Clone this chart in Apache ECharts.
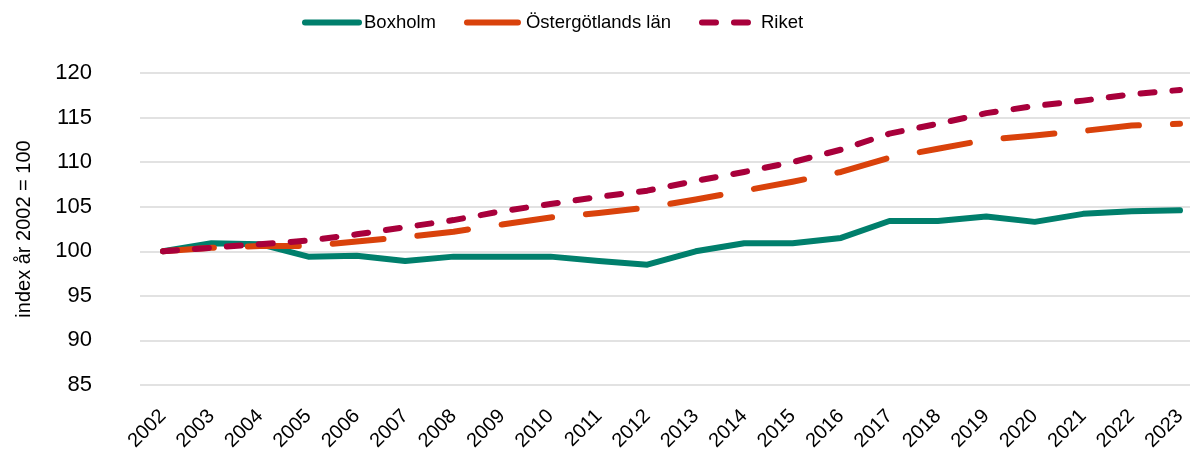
<!DOCTYPE html>
<html>
<head>
<meta charset="utf-8">
<script src="https://cdn.jsdelivr.net/npm/echarts@6/dist/echarts.min.js"></script>
<style>
  html, body { margin: 0; padding: 0; background: #fff; }
  #main { width: 1192px; height: 453px; }
</style>
</head>
<body>
<div id="main"></div>
<script>
// år
const years = ['2002', '2003', '2004', '2005', '2006', '2007', '2008', '2009', '2010', '2011', '2012',
    '2013', '2014', '2015', '2016', '2017', '2018', '2019', '2020', '2021', '2022', '2023'];

// index år 2002 = 100
const boxholm = [100, 100.9, 100.8, 99.4, 99.5, 98.9, 99.4, 99.4, 99.4, 98.9, 98.5,
    100.0, 100.9, 100.9, 101.5, 103.4, 103.4, 103.9, 103.3, 104.2, 104.5, 104.6];
const ostergotland = [100, 100.4, 100.6, 100.6, 101.1, 101.6, 102.2, 103.0, 103.8, 104.3, 104.9,
    105.8, 106.8, 107.8, 108.9, 110.5, 111.5, 112.5, 113.0, 113.5, 114.1, 114.3];
const riket = [100, 100.4, 100.8, 101.2, 101.9, 102.7, 103.5, 104.5, 105.3, 106.1, 106.8,
    107.9, 108.9, 110.0, 111.4, 113.2, 114.3, 115.5, 116.3, 116.9, 117.6, 118.1];

const yTicks = { min: 85, max: 120, step: 5 };

const font = 'Liberation Sans, Arial, sans-serif';

const myChart = echarts.init(document.getElementById('main'));

function lineSeries(name, data, color, type) {
    return {
        name: name,
        type: 'line',
        xAxisIndex: 1,
        yAxisIndex: 1,
        data: data,
        symbol: 'none',
        lineStyle: { color: color, width: 6, type: type, cap: 'round', join: 'round' },
        itemStyle: { color: color }
    };
}

// grid 0: rutnät och y-etiketter, grid 1: linjerna (punkterna sitter på tickarna)
const option = {
    animation: false,
    textStyle: { fontFamily: font },
    legend: {
        top: 13,
        left: 302,
        padding: 0,
        itemWidth: 54,
        itemHeight: 24,
        itemGap: 28,
        itemStyle: { opacity: 0 },
        lineStyle: { width: 6, cap: 'round' },
        textStyle: { fontSize: 18.5, color: '#000', fontFamily: font },
        data: ['Boxholm', 'Östergötlands län', 'Riket']
    },
    grid: [
        { left: 140, right: 2, top: 73, bottom: 68, outerBoundsMode: 'none' },
        { left: 163, right: 12, top: 73, bottom: 68, outerBoundsMode: 'none' }
    ],
    xAxis: [
        {
            type: 'category',
            gridIndex: 0,
            data: years,
            show: false
        },
        {
            type: 'category',
            gridIndex: 1,
            data: years,
            boundaryGap: false,
            axisLine: { show: false },
            axisTick: { show: false },
            splitLine: { show: false },
            axisLabel: { rotate: 45, fontSize: 20, color: '#000', margin: 28, fontFamily: font, interval: 0 }
        }
    ],
    yAxis: [
        {
            type: 'value',
            gridIndex: 0,
            min: yTicks.min,
            max: yTicks.max,
            interval: yTicks.step,
            name: 'index år 2002 = 100',
            nameLocation: 'middle',
            nameGap: 106,
            nameTextStyle: { fontSize: 20, color: '#000', fontFamily: font },
            axisLine: { show: false },
            axisTick: { show: false },
            axisLabel: { fontSize: 22, color: '#000', margin: 48, fontFamily: font },
            splitLine: { lineStyle: { color: '#d9d9d9', width: 1.5 } }
        },
        {
            type: 'value',
            gridIndex: 1,
            min: yTicks.min,
            max: yTicks.max,
            interval: yTicks.step,
            show: false,
            splitLine: { show: false }
        }
    ],
    series: [
        lineSeries('Boxholm', boxholm, '#007F6C', 'solid'),
        lineSeries('Östergötlands län', ostergotland, '#D9420B', [51, 34]),
        lineSeries('Riket', riket, '#A8003B', [14, 18])
    ]
};

myChart.setOption(option);
</script>
</body>
</html>
